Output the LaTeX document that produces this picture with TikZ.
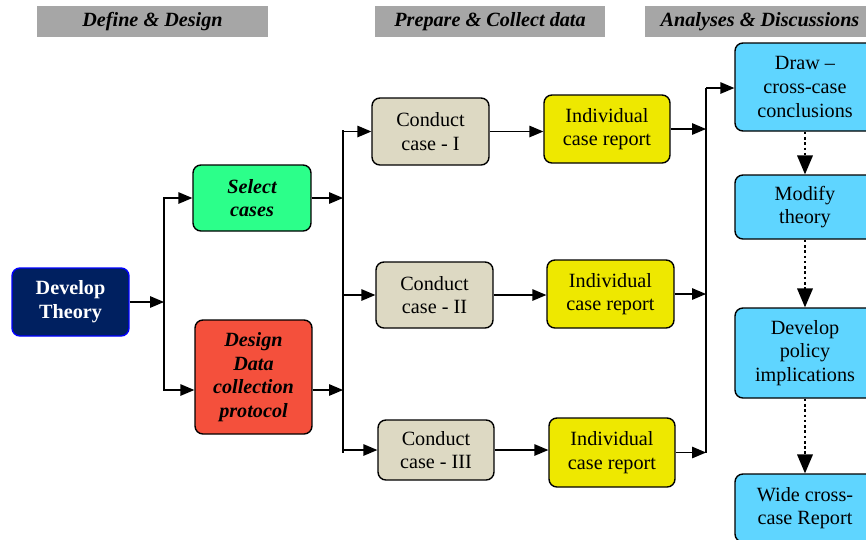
\documentclass[tikz,border=0pt]{standalone}
\usepackage{fontspec}
\setmainfont{Liberation Serif}
\usepackage{xcolor}
\usetikzlibrary{arrows}

\definecolor{hdrgray}{RGB}{166,166,166}
\definecolor{navy}{RGB}{0,32,96}
\definecolor{selgreen}{RGB}{44,255,138}
\definecolor{dsgred}{RGB}{244,80,60}
\definecolor{beige}{RGB}{221,217,195}
\definecolor{repyellow}{RGB}{238,232,0}
\definecolor{anacyan}{RGB}{95,213,255}

\begin{document}
\begin{tikzpicture}[x=0.02cm,y=-0.02cm,line width=0.8pt,
    box/.style={draw,rectangle,rounded corners=4.5pt,align=center,inner sep=0pt,
      font=\fontsize{11.5}{13.5}\selectfont},
    hdr/.style={rectangle,fill=hdrgray,minimum width=4.62cm,minimum height=0.58cm,
      font=\fontsize{11.5}{13}\selectfont\bfseries\itshape},
    link/.style={-triangle 45},
    flow/.style={-triangle 45,line width=1.5pt,dash pattern=on 1.5pt off 1.5pt}]
      \useasboundingbox (0,0) rectangle (866,539);

      % headers
      \node [hdr] (h1) at (152.5, 21.5) {Define \& Design};
      \node [hdr] (h2) at (490, 21.5) {Prepare \& Collect data};
      \node [hdr] (h3) at (760, 21.5) {Analyses \& Discussions};

      % define & design
      \node [box,fill=navy,draw=blue,text=white,font=\fontsize{11.5}{13.5}\selectfont\bfseries,
        minimum width=2.34cm,minimum height=1.36cm] (dt) at (70.5, 302) {Develop\\Theory};
      \node [box,fill=selgreen,font=\fontsize{11.5}{13.5}\selectfont\bfseries\itshape,
        minimum width=2.36cm,minimum height=1.32cm] (sc) at (252, 198) {Select\\cases};
      \node [box,fill=dsgred,font=\fontsize{11.5}{13.5}\selectfont\bfseries\itshape,
        minimum width=2.34cm,minimum height=2.28cm] (dp) at (253.5, 377) {Design\\Data\\collection\\protocol};

      % prepare & collect
      \node [box,fill=beige,minimum width=2.34cm,minimum height=1.34cm] (c1) at (430.5, 131.5) {Conduct\\case - I};
      \node [box,fill=beige,minimum width=2.34cm,minimum height=1.32cm] (c2) at (434.5, 295) {Conduct\\case - II};
      \node [box,fill=beige,minimum width=2.32cm,minimum height=1.2cm] (c3) at (436, 450) {Conduct\\case - III};

      \node [box,fill=repyellow,minimum width=2.52cm,minimum height=1.36cm] (r1) at (607, 129) {Individual\\case report};
      \node [box,fill=repyellow,minimum width=2.54cm,minimum height=1.36cm] (r2) at (610.5, 294) {Individual\\case report};
      \node [box,fill=repyellow,minimum width=2.52cm,minimum height=1.38cm] (r3) at (612, 452.5) {Individual\\case report};

      % analyses & discussions
      \node [box,fill=anacyan,minimum width=2.8cm,minimum height=1.76cm] (a1) at (805, 87) {Draw --\\cross-case\\conclusions};
      \node [box,fill=anacyan,minimum width=2.8cm,minimum height=1.28cm] (a2) at (805, 207) {Modify\\theory};
      \node [box,fill=anacyan,minimum width=2.8cm,minimum height=1.8cm] (a3) at (805, 353) {Develop\\policy\\implications};
      \node [box,fill=anacyan,minimum width=2.8cm,minimum height=1.36cm] (a4) at (805, 508) {Wide cross-\\case Report};

      % junctions
      \coordinate (j1) at (164, 302);
      \coordinate (j2t) at (343, 130);
      \coordinate (j2b) at (343, 453);
      \coordinate (j3t) at (706, 88);
      \coordinate (j3b) at (706, 453);

      \draw [link] (dt.east) -- (j1);
      \draw [link] (j1) |- (sc.west);
      \draw [link] (j1) |- ([yshift=-0.26cm]dp.west);

      \draw (j2t) -- (j2b);
      \draw [link] (sc.east) -- (sc.east -| j2t);
      \draw [link] ([yshift=-0.26cm]dp.east) -- ([yshift=-0.26cm]dp.east -| j2t);
      \draw [link] (c1.west -| j2t) -- (c1.west);
      \draw [link] (c2.west -| j2t) -- (c2.west);
      \draw [link] (c3.west -| j2t) -- (c3.west);

      \draw [link] (c1.east) -- (r1.west |- c1.east);
      \draw [link] (c2.east) -- (r2.west |- c2.east);
      \draw [link] (c3.east) -- (r3.west |- c3.east);

      \draw (j3t) -- (j3b);
      \draw [link] (r1.east) -- (r1.east -| j3t);
      \draw [link] (r2.east) -- (r2.east -| j3t);
      \draw [link] (r3.east) -- (r3.east -| j3t);
      \draw [link] (j3t) -- (a1.west |- j3t);

      \draw [flow] (a1) -- (a2);
      \draw [flow] (a2) -- (a3);
      \draw [flow] (a3) -- (a4);
    \end{tikzpicture}
\end{document}
